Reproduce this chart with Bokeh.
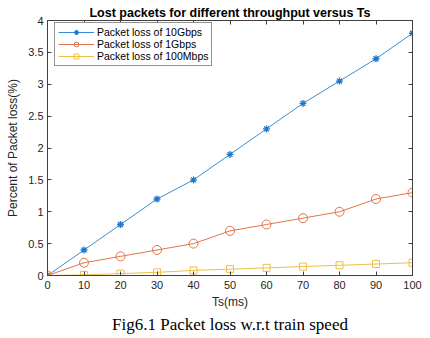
from bokeh.plotting import figure
from bokeh.models import Range1d, FixedTicker, LinearAxis, Title, Legend, LegendItem
from bokeh.embed import file_html
from bokeh.resources import INLINE

ts = [0, 10, 20, 30, 40, 50, 60, 70, 80, 90, 100]
loss_10g = [0, 0.4, 0.8, 1.2, 1.5, 1.9, 2.3, 2.7, 3.05, 3.4, 3.8]
loss_1g = [0, 0.2, 0.3, 0.4, 0.5, 0.7, 0.8, 0.9, 1.0, 1.2, 1.3]
loss_100m = [0, 0.01, 0.03, 0.05, 0.08, 0.1, 0.12, 0.14, 0.16, 0.18, 0.2]
x_ticks = [0, 10, 20, 30, 40, 50, 60, 70, 80, 90, 100]
y_ticks = [0, 0.5, 1, 1.5, 2, 2.5, 3, 3.5, 4]
y_labels = ["0", "0.5", "1", "1.5", "2", "2.5", "3", "3.5", "4"]

FONT = "Liberation Sans"
AX = "#404040"

p = figure(width=430, height=335, output_backend="svg", toolbar_location=None,
           x_range=Range1d(0, 100), y_range=Range1d(0, 4),
           min_border_left=47, min_border_right=18, min_border_top=20, min_border_bottom=10)
p.title.text = "Lost packets for different throughput versus Ts"
p.title.align = "center"
p.title.text_font = FONT
p.title.text_font_size = "12.5px"
p.title.text_font_style = "bold"
p.title.text_color = "#000000"
p.title.standoff = 2

p.xgrid.visible = False
p.ygrid.visible = False
p.outline_line_color = AX
p.background_fill_color = "white"
p.border_fill_color = "white"

for ax in p.xaxis + p.yaxis:
    ax.major_label_text_font = FONT
    ax.major_label_text_font_size = "11px"
    ax.major_label_text_color = "#262626"
    ax.axis_line_color = AX
    ax.major_tick_line_color = AX
    ax.major_tick_in = 4
    ax.major_tick_out = 0
    ax.minor_tick_line_color = None
    ax.axis_label_text_font = FONT
    ax.axis_label_text_font_size = "12px"
    ax.axis_label_text_font_style = "normal"
    ax.axis_label_text_color = "#262626"

p.xaxis.ticker = FixedTicker(ticks=x_ticks)
p.yaxis.ticker = FixedTicker(ticks=y_ticks)
p.yaxis.major_label_overrides = {t: l for t, l in zip(y_ticks, y_labels)}
p.xaxis.axis_label = "Ts(ms)"
p.yaxis.axis_label = "Percent of Packet loss(%)"
p.xaxis.major_label_standoff = 5
p.xaxis.axis_label_standoff = 3
p.yaxis.major_label_standoff = 4
p.yaxis.axis_label_standoff = 5

for loc, tick_list in (("right", y_ticks), ("above", x_ticks)):
    a = LinearAxis(ticker=FixedTicker(ticks=tick_list), major_label_text_color=None,
                   major_label_text_font_size="1px", major_label_standoff=0,
                   axis_line_color=AX, major_tick_line_color=AX, major_tick_in=4,
                   major_tick_out=0, minor_tick_line_color=None)
    p.add_layout(a, loc)

blue, orange, yellow = "#3a8fd3", "#e2744c", "#f0bf45"

l1 = p.line(ts, loss_10g, line_color=blue, line_width=1)
m1 = p.scatter(ts, loss_10g, marker="asterisk", size=7, line_color="#1f78c8", line_width=1.3)
l2 = p.line(ts, loss_1g, line_color=orange, line_width=1)
m2 = p.scatter(ts, loss_1g, marker="circle", size=9, line_color=orange, fill_color=None, line_width=1)
l3 = p.line(ts, loss_100m, line_color=yellow, line_width=1)
m3 = p.scatter(ts, loss_100m, marker="square", size=7, line_color=yellow, fill_color=None, line_width=1)

legend = Legend(items=[
    LegendItem(label="Packet loss of 10Gbps", renderers=[l1, m1]),
    LegendItem(label="Packet loss of 1Gbps", renderers=[l2, m2]),
    LegendItem(label="Packet loss of 100Mbps", renderers=[l3, m3]),
], location=(7, 209))
legend.label_text_font = FONT
legend.label_text_font_size = "10.5px"
legend.label_text_color = "#000000"
legend.border_line_color = "#262626"
legend.border_line_width = 1
legend.margin = 0
legend.padding = 3
legend.spacing = 0
legend.label_height = 12
legend.glyph_height = 12
legend.glyph_width = 36
legend.label_standoff = 3
legend.background_fill_alpha = 1
p.add_layout(legend)

cap = Title(text="Fig6.1 Packet loss w.r.t train speed", align="center",
            text_font="Liberation Serif", text_font_size="17px", text_font_style="normal",
            text_color="#000000", standoff=3)
p.add_layout(cap, "below")

open("out.html", "w").write(file_html(p, INLINE))
